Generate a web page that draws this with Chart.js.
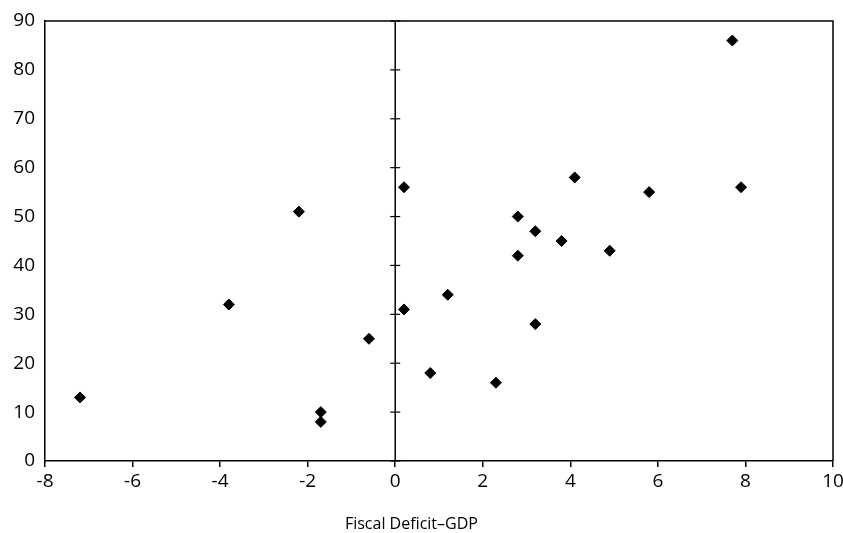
<!DOCTYPE html>
<html>
<head>
<meta charset="utf-8">
<script src="https://cdn.jsdelivr.net/npm/chart.js@4/dist/chart.umd.min.js"></script>
<style>
  html, body { margin: 0; padding: 0; background: #fff; }
  #wrap { width: 843px; height: 533px; }
</style>
</head>
<body>
<div id="wrap"><canvas id="c" width="843" height="533"></canvas></div>
<script>
const xValues = [-7.2, -3.8, -2.2, -1.7, -1.7, -0.6, 0.2, 0.2, 0.8, 1.2, 2.3, 2.8, 2.8, 3.2, 3.2, 3.8, 4.1, 4.9, 5.8, 7.7, 7.9];
const yValues = [13, 32, 51, 10, 8, 25, 56, 31, 18, 34, 16, 50, 42, 47, 28, 45, 58, 43, 55, 86, 56];
const xTitle = 'Fiscal Deficit\u2013GDP';
const xRange = [-8, 10];
const yRange = [0, 90];

const points = xValues.map((x, i) => ({ x: x, y: yValues[i] }));

const frameAndZeroAxis = {
  id: 'frameAndZeroAxis',
  afterDatasetsDraw(chart) {
    const { ctx, chartArea: a, scales } = chart;
    ctx.save();
    ctx.strokeStyle = '#000';
    ctx.lineWidth = 1.5;
    ctx.beginPath();
    ctx.moveTo(a.left, a.top);
    ctx.lineTo(a.right, a.top);
    ctx.lineTo(a.right, a.bottom);
    ctx.stroke();
    const x0 = scales.x.getPixelForValue(0);
    ctx.beginPath();
    ctx.moveTo(x0, a.top);
    ctx.lineTo(x0, a.bottom);
    ctx.stroke();
    ctx.lineWidth = 1.2;
    scales.y.ticks.forEach(t => {
      const py = scales.y.getPixelForValue(t.value);
      ctx.beginPath();
      ctx.moveTo(x0 - 5, py);
      ctx.lineTo(x0 + 5, py);
      ctx.stroke();
    });
    ctx.fillStyle = '#000';
    ctx.font = '16px "Open Sans"';
    ctx.textAlign = 'center';
    ctx.textBaseline = 'middle';
    ctx.fillText(xTitle, a.left + a.width * 0.465, 524);
    ctx.restore();
  }
};

function draw() {
  new Chart(document.getElementById('c'), {
    type: 'scatter',
    data: {
      datasets: [{
        data: points,
        pointStyle: 'rectRot',
        pointRadius: 5.5,
        pointHoverRadius: 5.5,
        backgroundColor: '#000',
        borderColor: '#000',
        borderWidth: 1
      }]
    },
    options: {
      responsive: false,
      animation: false,
      events: [],
      layout: { padding: { left: 12, top: 21, right: 10, bottom: 38 } },
      plugins: { legend: { display: false }, tooltip: { enabled: false } },
      scales: {
        x: {
          type: 'linear',
          min: xRange[0],
          max: xRange[1],
          afterFit(s) { s.height = 34; s.paddingLeft = 0; s.paddingRight = 0; },
          ticks: { stepSize: 2, color: '#000', font: { family: 'Open Sans', size: 19 }, padding: 3, maxRotation: 0 },
          grid: { drawOnChartArea: false, drawTicks: true, tickLength: 6, color: '#000', lineWidth: 1.5 },
          border: { display: true, color: '#000', width: 1.5 }
        },
        y: {
          type: 'linear',
          min: yRange[0],
          max: yRange[1],
          afterFit(s) { s.width = 33; s.paddingTop = 0; s.paddingBottom = 0; },
          ticks: { stepSize: 10, color: '#000', font: { family: 'Open Sans', size: 19 }, padding: 10 },
          grid: { drawOnChartArea: false, drawTicks: false },
          border: { display: true, color: '#000', width: 1.5 }
        }
      }
    },
    plugins: [frameAndZeroAxis]
  });
}

Promise.all([
  document.fonts.load('19px "Open Sans"'),
  document.fonts.load('16px "Open Sans"')
]).then(draw, draw);
</script>
</body>
</html>
